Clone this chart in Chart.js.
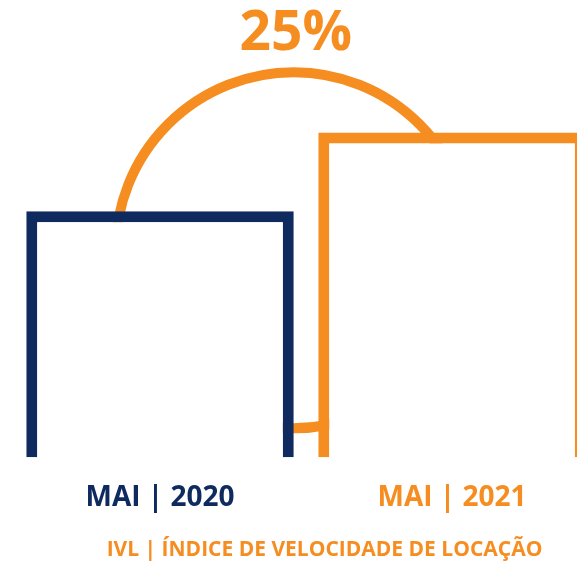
<!DOCTYPE html>
<html>
<head>
<meta charset="utf-8">
<script src="https://cdn.jsdelivr.net/npm/chart.js@4"></script>
<style>
  html, body { margin: 0; padding: 0; background: #fff; }
  #wrap { width: 577px; height: 563px; }
</style>
</head>
<body>
<div id="wrap"><canvas id="ivlChart"></canvas></div>
<script>
const categories = ['MAI | 2020', 'MAI | 2021'];
const ivlValues = [100, 125];
const yMin = 22;
const yMax = 167;
const barColors = ['#0e2a5e', '#f68d20'];
const axisTitle = 'IVL | ÍNDICE DE VELOCIDADE DE LOCAÇÃO';

// arc drawn behind the bars, with the growth label on top
const growthArc = {
    id: 'growthArc',
    beforeDatasetsDraw(chart) {
        const bars = chart.getDatasetMeta(0).data;
        const area = chart.chartArea;
        const ctx = chart.ctx;
        const cx = bars[0].x + bars[0].width / 2;
        const cy = area.bottom - 207;
        const r = 178;
        ctx.save();
        ctx.beginPath();
        ctx.arc(cx, cy, r, 0, Math.PI * 2);
        ctx.lineWidth = 10;
        ctx.strokeStyle = barColors[1];
        ctx.stroke();

        const pct = Math.round((ivlValues[1] / ivlValues[0] - 1) * 100);
        ctx.fillStyle = barColors[1];
        ctx.font = '700 55px "Open Sans"';
        ctx.textAlign = 'center';
        ctx.textBaseline = 'alphabetic';
        ctx.fillText(pct + '%', cx + 2, 50);
        ctx.restore();
    }
};

document.addEventListener('DOMContentLoaded', () => {
    const ctx = document.getElementById('ivlChart');

    new Chart(ctx, {
        type: 'bar',
        data: {
            datasets: [{
                data: ivlValues.map((v, i) => ({ x: i, y: v })),
                base: yMin,
                backgroundColor: '#ffffff',
                borderColor: barColors,
                borderWidth: 11,
                borderSkipped: 'bottom',
                categoryPercentage: 1,
                barPercentage: 0.916,
                clip: false
            }]
        },
        options: {
            responsive: true,
            maintainAspectRatio: false,
            animation: false,
            layout: { padding: { left: 72, right: 0, top: 0, bottom: 0 } },
            plugins: {
                legend: { display: false },
                tooltip: { enabled: false }
            },
            scales: {
                x: {
                    type: 'linear',
                    offset: false,
                    min: -0.3014,
                    max: 1.428,
                    grid: { display: false, drawTicks: false, offset: false },
                    border: { display: false },
                    ticks: {
                        stepSize: 1,
                        includeBounds: false,
                        autoSkip: false,
                        maxRotation: 0,
                        padding: 27,
                        font: { family: 'Open Sans', size: 28, weight: '700', lineHeight: 0.95 },
                        color: (c) => barColors[c.index],
                        callback: (v) => categories[v]
                    },
                    title: {
                        display: true,
                        text: axisTitle,
                        color: barColors[1],
                        font: { family: 'Open Sans', size: 21, weight: '700', lineHeight: 1.15 },
                        padding: { top: 0, bottom: 1 }
                    }
                },
                y: {
                    display: false,
                    min: yMin,
                    max: yMax
                }
            }
        },
        plugins: [growthArc]
    });
});
</script>
</body>
</html>
